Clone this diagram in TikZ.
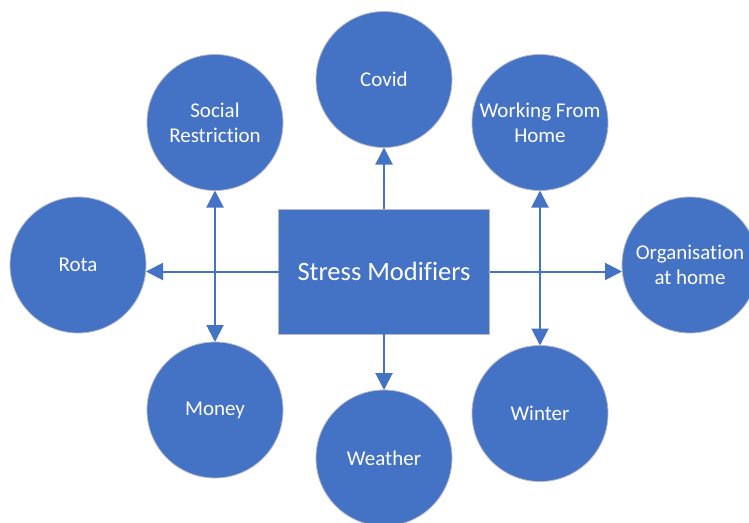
\documentclass[tikz,border=0pt]{standalone}
\usepackage{fontspec}
\setmainfont{Carlito}[RawFeature=-liga]
\usetikzlibrary{arrows.meta}
\definecolor{officeblue}{HTML}{4472C4}
\definecolor{rimgray}{HTML}{B4B9C4}
\tikzset{
  bubble/.style={circle, fill=officeblue, draw=rimgray, line width=0.8pt,
    minimum size=136pt, inner sep=0pt, outer sep=0pt, text=white,
    align=center, font=\fontsize{21}{25}\selectfont},
  hub/.style={rectangle, fill=officeblue, draw=rimgray, line width=0.8pt,
    minimum width=211pt, minimum height=125pt, inner sep=0pt, outer sep=0pt,
    text=white, font=\fontsize{26.5}{30}\selectfont},
  link/.style={draw=officeblue, line width=2pt,
    -{Triangle[length=17pt,width=17pt]}},
  duplink/.style={draw=officeblue, line width=2pt,
    {Triangle[length=17pt,width=17pt]}-{Triangle[length=17pt,width=17pt]}}
}
\begin{document}
\begin{tikzpicture}[x=1pt,y=-1pt]
\useasboundingbox (0,0) rectangle (749,522);
\clip (0,0) rectangle (749,522);

% central box
\node[hub] (hub) at (384,271.5) {Stress Modifiers};

% surrounding factors
\node[bubble] (covid)  at (384,79.5)  {Covid};
\node[bubble] (social) at (215,122.5) {Social\\Restriction};
\node[bubble] (wfh)    at (540,122.5) {Working From\\Home};
\node[bubble] (rota)   at (78,265)    {Rota};
\node[bubble] (org)    at (690,265)   {Organisation\\at home};
\node[bubble] (money)  at (215,410)   {Money};
\node[bubble] (weather) at (384,458)  {Weather};
\node[bubble] (winter) at (540,413.5) {Winter};

% connectors
\draw[link] (hub.north) -- (covid.south);
\draw[link] (hub.south) -- (weather.north);
\draw[link] (hub.west) -- (hub.west -| rota.east);
\draw[link] (hub.east) -- (hub.east -| org.west);
\draw[duplink] (social.south) -- (money.north);
\draw[duplink] (wfh.south) -- (winter.north);
\end{tikzpicture}
\end{document}
